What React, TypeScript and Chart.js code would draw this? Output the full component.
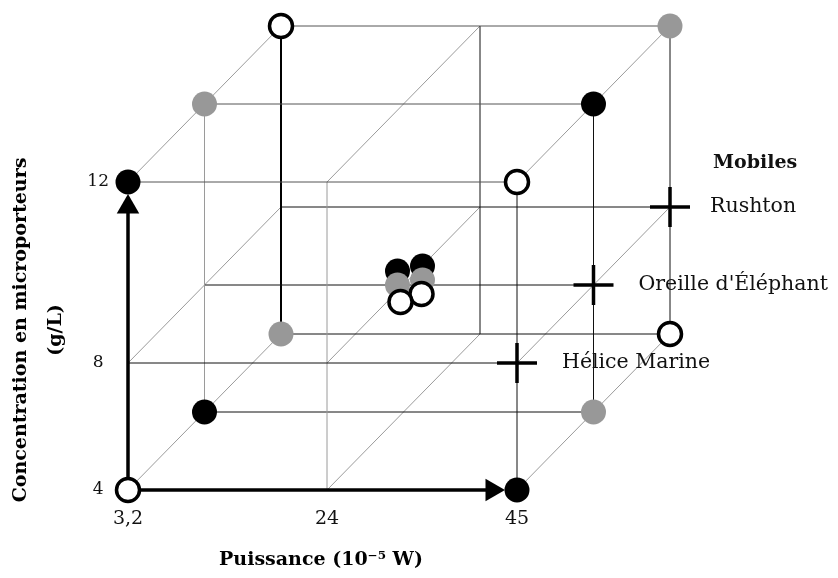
import React, { useEffect, useRef } from 'react';
import { Chart, registerables } from 'chart.js';

Chart.register(...registerables);

// ---------------- DATA ----------------
const POWER_LEVELS = [3.2, 24, 45]; // Puissance (10^-5 W)
const CONC_LEVELS = [4, 8, 12]; // Concentration (g/L)
const MOBILES = ['Hélice Marine', "Oreille d'Éléphant", 'Rushton']; // front -> back
const LEGEND_TITLE = 'Mobiles';
const X_TITLE = 'Puissance (10⁻⁵ W)';
const Y_TITLE = ['Concentration en microporteurs', '(g/L)'];

// runs: [power, concentration, mobile index]
const RUNS_BLACK = [
  [3.2, 12, 0],
  [45, 4, 0],
  [45, 12, 1],
  [3.2, 4, 1],
  [24, 8, 1],
  [24, 8, 1],
];
const RUNS_GRAY = [
  [3.2, 12, 1],
  [45, 4, 1],
  [45, 12, 2],
  [3.2, 4, 2],
  [24, 8, 1],
  [24, 8, 1],
];
const RUNS_OPEN = [
  [3.2, 4, 0],
  [45, 12, 0],
  [3.2, 12, 2],
  [45, 4, 2],
  [24, 8, 1],
  [24, 8, 1],
];
const RUNS_MOBILE_MARK = [
  [45, 8, 0],
  [45, 8, 1],
  [45, 8, 2],
];

// ---------------- LAYOUT (drawing units) ----------------
const X_LEVEL_POS = [0, 199, 389];
const Y_LEVEL_POS = [0, 127, 308];
const X_RANGE = [-16, 402];
const Y_RANGE = [-10, 330];
const DEPTH_DX = 76.5;
const DEPTH_DY = 78;
// display jitter so the replicated centre runs stay visible
const JITTER_BLACK = [[-6, 14], [19, 19]];
const JITTER_GRAY = [[-6, 0], [19, 5]];
const JITTER_OPEN = [[18, -9], [-3, -17]];
const ARROW_BACKOFF = 25;
const SERIF = '"DejaVu Serif", serif';

function interp(levels: number[], pos: number[], v: number) {
  for (let i = 0; i < levels.length - 1; i++) {
    if (v <= levels[i + 1] || i === levels.length - 2) {
      const t = (v - levels[i]) / (levels[i + 1] - levels[i]);
      return pos[i] + t * (pos[i + 1] - pos[i]);
    }
  }
  return pos[0];
}
const xOf = (p: number) => interp(POWER_LEVELS, X_LEVEL_POS, p);
const yOf = (c: number) => interp(CONC_LEVELS, Y_LEVEL_POS, c);
const project = (p: number, c: number, m: number) => ({
  x: xOf(p) + m * DEPTH_DX,
  y: yOf(c) + m * DEPTH_DY,
});

const isCenter = (r: number[]) => r[0] === POWER_LEVELS[1] && r[1] === CONC_LEVELS[1];
function runPoints(runs: number[][], jitter: number[][]) {
  let k = 0;
  return runs.map((r) => {
    const pt = project(r[0], r[1], r[2]);
    if (isCenter(r)) {
      const j = jitter[k++] || [0, 0];
      pt.x += j[0];
      pt.y += j[1];
    }
    return pt;
  });
}

const fmt = (v: number) => String(v).replace('.', ',');

const STYLES: Record<string, { color: string; width: number }> = {
  light: { color: '#9a9a9a', width: 1 },
  mid: { color: '#555555', width: 1 },
  dark: { color: '#111111', width: 1 },
  bold: { color: '#000000', width: 2 },
};

function buildSegments() {
  const [P0, P1, P2] = POWER_LEVELS;
  const [C0, C1, C2] = CONC_LEVELS;
  const segs: { a: any; b: any; s: string }[] = [];
  const add = (a: number[], b: number[], s: string) =>
    segs.push({ a: project(a[0], a[1], a[2]), b: project(b[0], b[1], b[2]), s });
  for (let m = 0; m < MOBILES.length; m++) {
    add([P0, C2, m], [P2, C2, m], 'mid');
    if (m > 0) add([P0, C0, m], [P2, C0, m], 'dark');
    if (m === 1) add([P0, C0, m], [P0, C2, m], 'light');
    if (m === 2) add([P0, C0, m], [P0, C2, m], 'bold');
    add([P2, C0, m], [P2, C2, m], 'dark');
    add([P0, C1, m], [P2, C1, m], 'dark');
    if (m === 0) add([P1, C0, m], [P1, C2, m], 'light');
    if (m === 2) add([P1, C0, m], [P1, C2, m], 'dark');
  }
  for (const p of POWER_LEVELS)
    for (const c of CONC_LEVELS) add([p, c, 0], [p, c, MOBILES.length - 1], 'light');
  return segs;
}

// let the cube's back part (outside the front-face chart area) be drawn
const fullAreaPlugin = {
  id: 'fullArea',
  beforeDatasetsDraw(chart: any) {
    chart.$savedArea = { ...chart.chartArea };
    Object.assign(chart.chartArea, { left: 0, top: 0, right: chart.width, bottom: chart.height });
  },
  afterDatasetsDraw(chart: any) {
    if (chart.$savedArea) Object.assign(chart.chartArea, chart.$savedArea);
  },
};

const labelPlugin = {
  id: 'mobileLabels',
  afterDatasetsDraw(chart: any) {
    const { ctx, scales } = chart;
    const xs = scales.x;
    const ys = scales.y;
    ctx.save();
    ctx.fillStyle = '#111';
    ctx.textBaseline = 'middle';
    ctx.textAlign = 'left';
    let topLabel: any = null;
    RUNS_MOBILE_MARK.forEach((r) => {
      const pt = project(r[0], r[1], r[2]);
      const px = xs.getPixelForValue(pt.x);
      const py = ys.getPixelForValue(pt.y);
      ctx.font = `20.5px ${SERIF}`;
      const off = r[2] === MOBILES.length - 1 ? 40 : 45;
      ctx.fillText(MOBILES[r[2]], px + off, py);
      if (r[2] === MOBILES.length - 1) topLabel = { px: px + off, py };
    });
    if (topLabel) {
      ctx.font = `bold 19px ${SERIF}`;
      ctx.fillText(LEGEND_TITLE, topLabel.px + 3, topLabel.py - 44);
    }
    ctx.restore();
  },
};

export default function App() {
  const ref = useRef<HTMLCanvasElement>(null);
  useEffect(() => {
    const segs = buildSegments();
    const lineSets = segs.map((sg) => ({
      type: 'scatter' as const,
      data: [sg.a, sg.b],
      showLine: true,
      pointRadius: 0,
      borderColor: STYLES[sg.s].color,
      borderWidth: STYLES[sg.s].width,
      fill: false,
      clip: false as any,
      order: 100,
    }));
    const origin = project(POWER_LEVELS[0], CONC_LEVELS[0], 0);
    const yEnd = project(POWER_LEVELS[0], CONC_LEVELS[2], 0);
    const xEnd = project(POWER_LEVELS[2], CONC_LEVELS[0], 0);
    const yHead = { x: yEnd.x, y: yEnd.y - ARROW_BACKOFF };
    const xHead = { x: xEnd.x - ARROW_BACKOFF, y: xEnd.y };
    const arrowSets = [
      { data: [origin, yHead] },
      { data: [origin, xHead] },
    ].map((d) => ({
      type: 'scatter' as const,
      data: d.data,
      showLine: true,
      pointRadius: 0,
      borderColor: '#000',
      borderWidth: 3.5,
      clip: false as any,
      order: 90,
    }));
    const headSets = [
      { pt: yHead, rot: 0 },
      { pt: xHead, rot: 90 },
    ].map((h) => ({
      type: 'scatter' as const,
      data: [h.pt],
      pointStyle: 'triangle',
      pointRadius: 13,
      rotation: h.rot,
      backgroundColor: '#000',
      borderColor: '#000',
      borderWidth: 0,
      clip: false as any,
      order: 80,
    }));
    const pointSets = [
      {
        type: 'scatter' as const,
        data: runPoints(RUNS_BLACK, JITTER_BLACK),
        pointRadius: 12.5,
        backgroundColor: '#000',
        borderColor: '#000',
        borderWidth: 0,
        clip: false as any,
        order: 4,
      },
      {
        type: 'scatter' as const,
        data: runPoints(RUNS_GRAY, JITTER_GRAY),
        pointRadius: 12.5,
        backgroundColor: '#989898',
        borderColor: '#989898',
        borderWidth: 0,
        clip: false as any,
        order: 3,
      },
      {
        type: 'scatter' as const,
        data: runPoints(RUNS_OPEN, JITTER_OPEN),
        pointRadius: 11.5,
        backgroundColor: '#fff',
        borderColor: '#000',
        borderWidth: 3.5,
        clip: false as any,
        order: 2,
      },
      {
        type: 'scatter' as const,
        data: RUNS_MOBILE_MARK.map((r) => project(r[0], r[1], r[2])),
        pointStyle: 'cross',
        pointRadius: 20,
        borderColor: '#000',
        borderWidth: 3.5,
        clip: false as any,
        order: 1,
      },
    ];

    const chart = new Chart(ref.current as HTMLCanvasElement, {
      type: 'scatter',
      data: { datasets: [...pointSets, ...headSets, ...arrowSets, ...lineSets] as any },
      options: {
        responsive: false,
        devicePixelRatio: 1,
        animation: false,
        events: [],
        layout: { padding: { left: 0, top: 160, right: 308, bottom: 0 } },
        plugins: { legend: { display: false }, tooltip: { enabled: false } },
        scales: {
          x: {
            type: 'linear',
            position: 'bottom',
            bounds: 'data',
            grace: 0,
            grid: { display: false, drawTicks: false },
            border: { display: false },
            afterDataLimits: (s: any) => {
              s.min = X_RANGE[0];
              s.max = X_RANGE[1];
            },
            afterBuildTicks: (s: any) => {
              s.min = X_RANGE[0];
              s.max = X_RANGE[1];
              s.ticks = POWER_LEVELS.map((p) => ({ value: xOf(p) }));
            },
            afterFit: (s: any) => {
              s.height = 78;
            },
            ticks: {
              autoSkip: false,
              maxRotation: 0,
              padding: 8,
              color: '#111',
              font: { family: SERIF, size: 19 },
              callback: (_v: any, i: number) => fmt(POWER_LEVELS[i]),
            },
            title: {
              display: true,
              text: X_TITLE,
              color: '#000',
              font: { family: SERIF, size: 19, weight: 'bold', lineHeight: 1.2 },
              padding: { top: 0, bottom: 7 },
            },
          },
          y: {
            type: 'linear',
            position: 'left',
            bounds: 'data',
            grace: 0,
            grid: { display: false, drawTicks: false },
            border: { display: false },
            afterDataLimits: (s: any) => {
              s.min = Y_RANGE[0];
              s.max = Y_RANGE[1];
            },
            afterBuildTicks: (s: any) => {
              s.min = Y_RANGE[0];
              s.max = Y_RANGE[1];
              s.ticks = CONC_LEVELS.map((c) => ({ value: yOf(c) }));
            },
            afterFit: (s: any) => {
              s.width = 112;
            },
            ticks: {
              autoSkip: false,
              padding: 3,
              crossAlign: 'center',
              color: '#111',
              font: { family: SERIF, size: 17 },
              callback: (_v: any, i: number) => fmt(CONC_LEVELS[i]),
            },
            title: {
              display: true,
              text: Y_TITLE,
              color: '#000',
              font: { family: SERIF, size: 19, weight: 'bold', lineHeight: 35 / 19 },
              padding: { top: 4, bottom: 0 },
            },
          },
        },
      } as any,
      plugins: [fullAreaPlugin, labelPlugin],
    });
    return () => chart.destroy();
  }, []);

  return (
    <div style={{ position: 'absolute', left: 0, top: 0, width: 838, height: 578, background: '#fff' }}>
      <canvas ref={ref} width={838} height={578} style={{ display: 'block' }} />
    </div>
  );
}
